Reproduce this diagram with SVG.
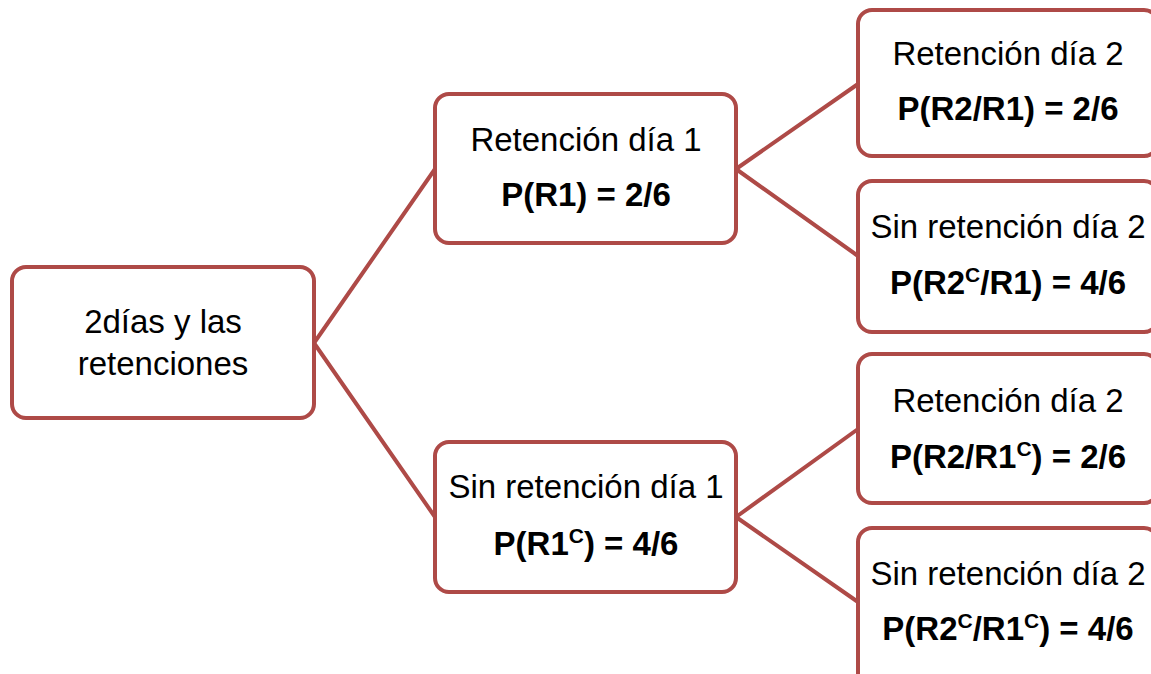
<svg xmlns="http://www.w3.org/2000/svg" width="1151" height="674" viewBox="0 0 1151 674">
<style>
.box{fill:#ffffff;stroke:#AE4A47;stroke-width:4}
.con{stroke:#AE4A47;stroke-width:4;fill:none;stroke-linecap:round}
text{font-family:"Liberation Sans",Arial,sans-serif;font-size:33px;fill:#000;text-anchor:middle}
.b{font-weight:bold}
</style>
<rect width="1151" height="674" fill="#ffffff"/>
<g id="connectors">
<line class="con" x1="314" y1="343" x2="435" y2="169"/>
<line class="con" x1="314" y1="343" x2="435" y2="517"/>
<line class="con" x1="736" y1="169" x2="858" y2="84"/>
<line class="con" x1="736" y1="169" x2="858" y2="256"/>
<line class="con" x1="736" y1="517" x2="858" y2="429"/>
<line class="con" x1="736" y1="517" x2="858" y2="602"/>
</g>
<g id="root">
<rect class="box" x="12" y="267" width="302" height="151" rx="14"/>
<text x="163" y="333">2días y las</text>
<text x="163" y="375">retenciones</text>
</g>
<g id="r1">
<rect class="box" x="435" y="94" width="301" height="149" rx="14"/>
<text x="586" y="151">Retención día 1</text>
<text class="b" x="586" y="206">P(R1) = 2/6</text>
</g>
<g id="nr1">
<rect class="box" x="435" y="442" width="301" height="150" rx="14"/>
<text x="586" y="498">Sin retención día 1</text>
<text class="b" x="586" y="555">P(R1<tspan font-size="21" dy="-12">C</tspan><tspan dy="12">) = 4/6</tspan></text>
</g>
<g id="r1r2">
<rect class="box" x="858" y="10" width="300" height="146" rx="14"/>
<text x="1008" y="65">Retención día 2</text>
<text class="b" x="1008" y="120">P(R2/R1) = 2/6</text>
</g>
<g id="r1nr2">
<rect class="box" x="858" y="181" width="300" height="151" rx="14"/>
<text x="1008" y="238">Sin retención día 2</text>
<text class="b" x="1008" y="294">P(R2<tspan font-size="21" dy="-12">C</tspan><tspan dy="12">/R1) = 4/6</tspan></text>
</g>
<g id="nr1r2">
<rect class="box" x="858" y="354" width="300" height="149" rx="14"/>
<text x="1008" y="412">Retención día 2</text>
<text class="b" x="1008" y="468">P(R2/R1<tspan font-size="21" dy="-12">C</tspan><tspan dy="12">) = 2/6</tspan></text>
</g>
<g id="nr1nr2">
<rect class="box" x="858" y="528" width="300" height="160" rx="14"/>
<text x="1008" y="585">Sin retención día 2</text>
<text class="b" x="1008" y="640">P(R2<tspan font-size="21" dy="-12">C</tspan><tspan dy="12">/R1</tspan><tspan font-size="21" dy="-12">C</tspan><tspan dy="12">) = 4/6</tspan></text>
</g>
</svg>
